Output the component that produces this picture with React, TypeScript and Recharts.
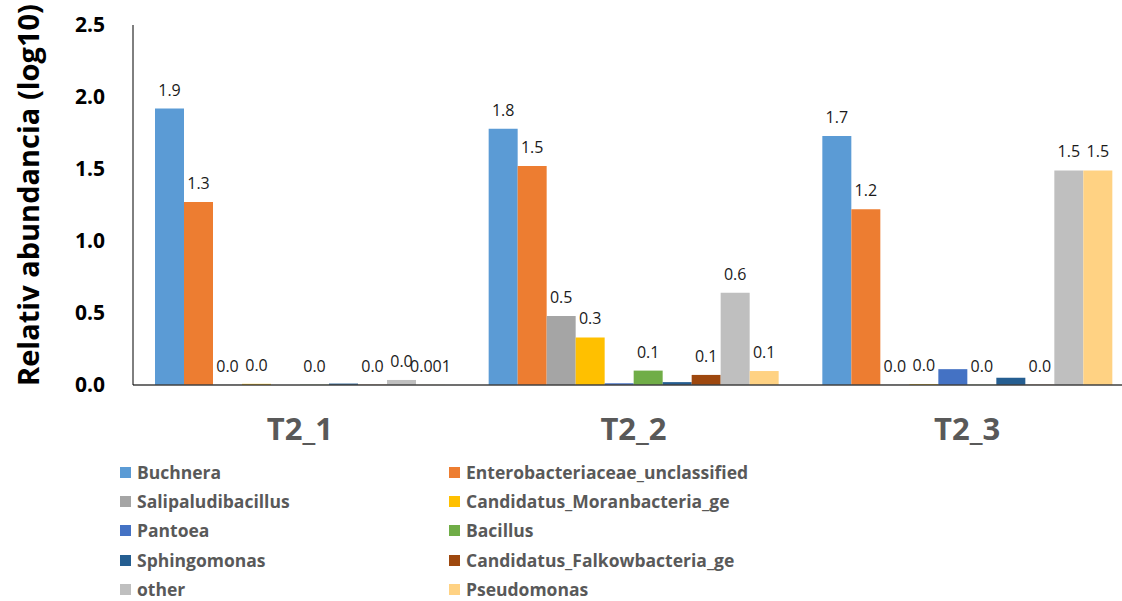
import React from "react";
import { BarChart, Bar, XAxis, YAxis, LabelList } from "recharts";

const categories = ["T2_1", "T2_2", "T2_3"];

const buchnera = [1.92, 1.78, 1.73];
const enterobacteriaceae = [1.27, 1.52, 1.22];
const salipaludibacillus = [0.002, 0.48, 0.002];
const moranbacteria = [0.008, 0.33, 0.006];
const pantoea = [0, 0.012, 0.11];
const bacillus = [0.002, 0.1, 0.002];
const sphingomonas = [0.01, 0.02, 0.05];
const falkowbacteria = [0.002, 0.07, 0.002];
const other = [0.035, 0.64, 1.49];
const pseudomonas = [0.001, 0.097, 1.49];

const yTicks = [0, 0.5, 1.0, 1.5, 2.0, 2.5];

const series = [
  { key: "Buchnera", values: buchnera, color: "#5B9BD5", label: 1 },
  { key: "Enterobacteriaceae_unclassified", values: enterobacteriaceae, color: "#ED7D31", label: 1 },
  { key: "Salipaludibacillus", values: salipaludibacillus, color: "#A5A5A5", label: 1 },
  { key: "Candidatus_Moranbacteria_ge", values: moranbacteria, color: "#FFC000", label: 1 },
  { key: "Pantoea", values: pantoea, color: "#4472C4", label: 0 },
  { key: "Bacillus", values: bacillus, color: "#70AD47", label: 1 },
  { key: "Sphingomonas", values: sphingomonas, color: "#255E91", label: 0 },
  { key: "Candidatus_Falkowbacteria_ge", values: falkowbacteria, color: "#9E480E", label: 1 },
  { key: "other", values: other, color: "#BFBFBF", label: 1 },
  { key: "Pseudomonas", values: pseudomonas, color: "#FFD283", label: 2 },
];

const data = categories.map((c, i) => {
  const row: Record<string, number | string> = { name: c };
  series.forEach((s) => {
    row[s.key] = s.values[i];
  });
  return row;
});

const fmt1 = (v: any) => Number(v).toFixed(1);
const fmtSmall = (v: any) => {
  const n = Number(v);
  return n < 0.005 ? n.toFixed(3) : n.toFixed(1);
};

const YTitle = (props: any) => {
  const vb = props.viewBox || {};
  const x = (vb.x || 0) + 27;
  const y = (vb.y || 0) + (vb.height || 0) / 2 - 10;
  return (
    <text
      x={x}
      y={y}
      transform={`rotate(-90 ${x} ${y})`}
      textAnchor="middle"
      dominantBaseline="central"
      fontFamily="Open Sans"
      fontWeight={700}
      fontSize={29}
      fill="#000"
    >
      Relativ abundancia (log10)
    </text>
  );
};

export default function App() {
  return (
    <div
      style={{
        position: "absolute",
        left: 0,
        top: 0,
        width: 1122,
        height: 601,
        overflow: "hidden",
        background: "#fff",
      }}
    >
      <BarChart
        width={1140}
        height={601}
        data={data}
        margin={{ top: 25, right: 6, left: 0, bottom: 166 }}
        barGap={0}
        barCategoryGap={22}
      >
        <XAxis
          dataKey="name"
          height={50}
          tickLine={false}
          tickSize={0}
          tickMargin={33}
          axisLine={{ stroke: "#404040", strokeWidth: 1.5 }}
          tick={{ fontFamily: "Open Sans", fontWeight: 700, fontSize: 31, fill: "#595959" }}
        />
        <YAxis
          width={133}
          domain={[0, 2.5]}
          ticks={yTicks}
          interval={0}
          tickFormatter={(v: number) => v.toFixed(1)}
          tickLine={false}
          tickSize={0}
          tickMargin={28}
          axisLine={{ stroke: "#000", strokeWidth: 1 }}
          tick={{ fontFamily: "Open Sans", fontWeight: 700, fontSize: 21, fill: "#000" }}
          label={<YTitle />}
        />
        {series.map((s) => (
          <Bar key={s.key} dataKey={s.key} fill={s.color} isAnimationActive={false}>
            {s.label ? (
              <LabelList
                dataKey={s.key}
                position="top"
                offset={13}
                formatter={s.label === 2 ? fmtSmall : fmt1}
                style={{ fontFamily: "Open Sans", fontSize: 16, fill: "#1a1a1a" }}
              />
            ) : null}
          </Bar>
        ))}
      </BarChart>
      <div
        style={{
          position: "absolute",
          left: 120,
          top: 458,
          display: "grid",
          gridTemplateColumns: "329px 329px",
          gridAutoRows: "29.2px",
          fontFamily: "Open Sans",
          fontWeight: 700,
          fontSize: 17.5,
          lineHeight: "19px",
          color: "#595959",
        }}
      >
        {series.map((s) => (
          <div key={s.key} style={{ display: "flex", alignItems: "center", whiteSpace: "nowrap" }}>
            <span
              style={{ width: 11, height: 11, background: s.color, display: "inline-block", marginRight: 6 }}
            />
            <span>{s.key}</span>
          </div>
        ))}
      </div>
    </div>
  );
}
